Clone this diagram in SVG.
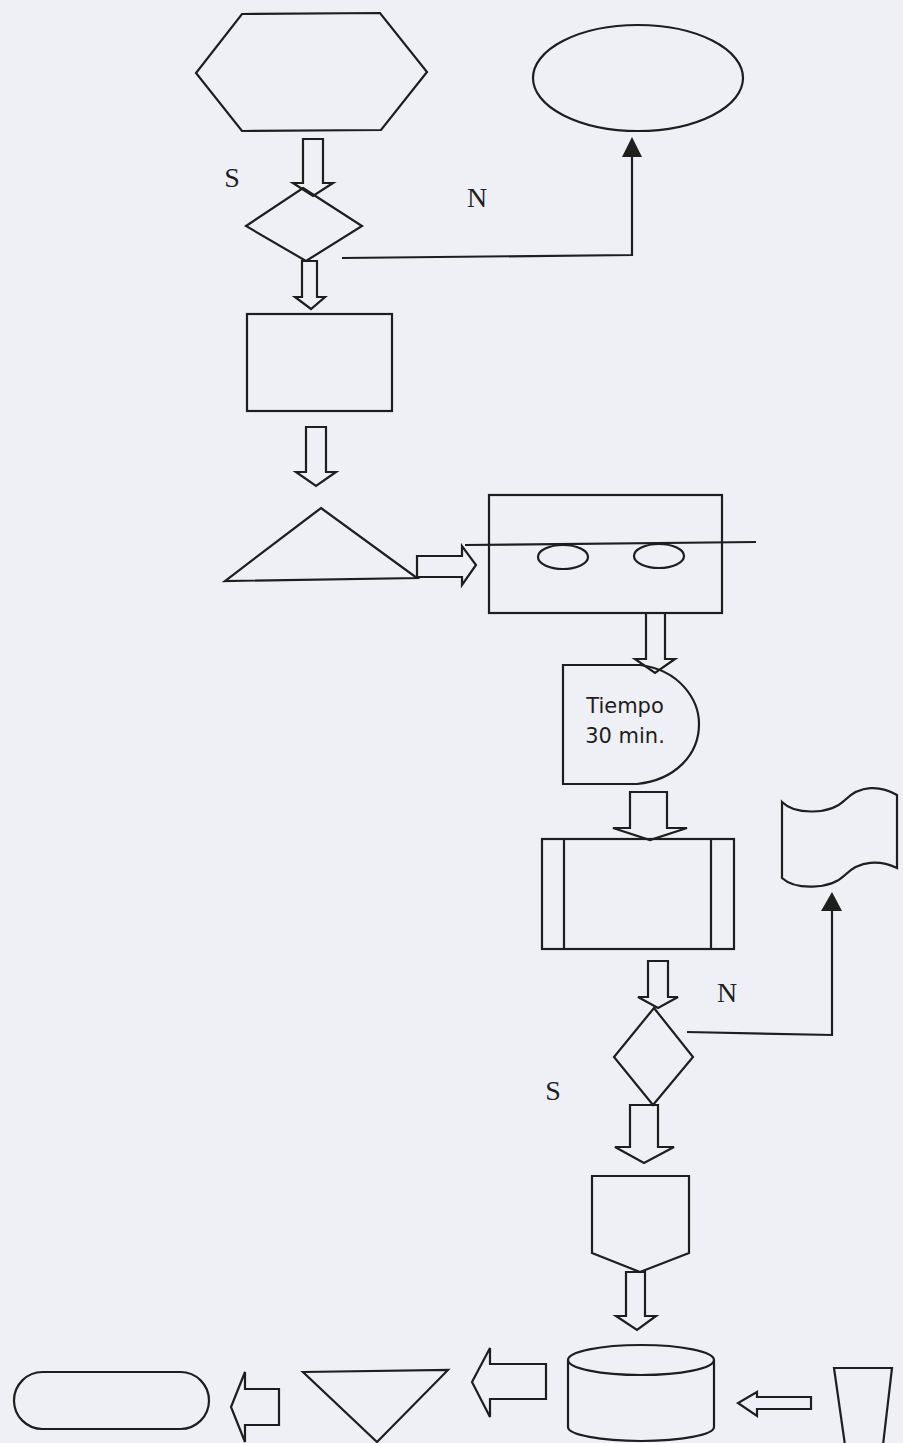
<svg xmlns="http://www.w3.org/2000/svg" width="903" height="1443" viewBox="0 0 903 1443">
<style>
.s{fill:none;stroke:#1e1e1e;stroke-width:2.2;stroke-linejoin:miter}
.c{fill:none;stroke:#1e1e1e;stroke-width:2.2}
.ah{fill:#1e1e1e;stroke:none}
.lbl{font-family:"Liberation Serif",serif;font-size:28px;fill:#1e1e1e}
.txt{font-family:"DejaVu Sans","Liberation Sans",sans-serif;font-size:21px;fill:#1e1e1e}
</style>
<rect width="903" height="1443" fill="#eff0f5"/>
<g id="hexagon"><polygon class="s" points="242,14 380,13 427,72 381,130 242,131 196,73"/></g>
<g id="ellipse1"><ellipse class="s" cx="638" cy="78" rx="105" ry="53"/></g>
<g id="decision1"><polygon class="s" points="303,188 362,226 306,261 246,226"/></g>
<g id="process1"><rect class="s" x="247" y="314" width="145" height="97"/></g>
<g id="triangle1"><polygon class="s" points="321,508 417,578 225,581"/></g>
<g id="operation"><rect class="s" x="489" y="495" width="233" height="118"/><line class="s" x1="465" y1="545" x2="756" y2="542"/><ellipse class="s" cx="563" cy="557" rx="25" ry="12"/><ellipse class="s" cx="659" cy="556" rx="25" ry="12"/></g>
<g id="delay"><path class="s" d="M563,665 L640,665 C680,670 699,700 699,724 C699,755 675,780 637,784 L563,784 Z"/><text class="txt" x="625" y="713" text-anchor="middle">Tiempo</text><text class="txt" x="625" y="743" text-anchor="middle">30 min.</text></g>
<g id="predefined"><rect class="s" x="542" y="839" width="192" height="110"/><line class="s" x1="564" y1="839" x2="564" y2="949"/><line class="s" x1="711" y1="839" x2="711" y2="949"/></g>
<g id="tape"><path class="s" d="M782,802 L782,878 C795,890 830,890 845,875 C860,860 880,860 897,868 L897,795 C880,785 860,785 845,800 C830,815 795,815 782,802 Z"/></g>
<g id="decision2"><polygon class="s" points="654,1008 693,1057 653,1105 614,1057"/></g>
<g id="offpage"><polygon class="s" points="592,1176 689,1176 689,1253 640,1272 592,1253"/></g>
<g id="cylinder"><path class="s" d="M568,1360 L568,1427 A73,14 0 0 0 714,1427 L714,1360"/><ellipse class="s" cx="641" cy="1360" rx="73" ry="15"/></g>
<g id="trapezoid"><polygon class="s" points="834,1368 892,1368 883,1445 845,1445"/></g>
<g id="triangle2"><polygon class="s" points="303,1372 448,1370 377,1442"/></g>
<g id="terminator"><rect class="s" x="14" y="1372" width="195" height="57" rx="28.5" ry="28.5"/></g>
<g id="connectors">
<polygon class="s" points="303,139 323,139 323,183 333,183 313,196 293,183 303,183"/>
<polygon class="s" points="302,261 317,261 317,297 325,297 311,309 295,297 302,297"/>
<polygon class="s" points="306,427 326,427 326,472 336,472 316,486 296,472 306,472"/>
<polygon class="s" points="417,556 462,556 462,546 476,565 462,585 462,577 417,577"/>
<polygon class="s" points="646,613 665,613 665,659 675,659 655,673 635,659 646,659"/>
<polygon class="s" points="630,792 667,792 667,828 687,828 650,840 613,828 630,828"/>
<polygon class="s" points="648,961 668,961 668,997 678,997 658,1008 638,997 648,997"/>
<polygon class="s" points="630,1105 658,1105 658,1147 674,1147 644,1163 615,1147 630,1147"/>
<polygon class="s" points="626,1272 645,1272 645,1316 656,1316 637,1330 616,1316 626,1316"/>
<polygon class="s" points="811,1397 811,1409 757,1409 757,1416 738,1403 757,1392 757,1397"/>
<polygon class="s" points="546,1364 546,1399 490,1399 490,1417 472,1382 490,1348 490,1364"/>
<polygon class="s" points="279,1389 279,1425 245,1425 245,1442 231,1407 245,1372 245,1389"/>
<polyline class="c" points="342,258 632,255 632,156"/>
<polygon class="ah" points="632,137 642,157 622,157"/>
<polyline class="c" points="687,1032 832,1035 832,910"/>
<polygon class="ah" points="832,892 842,911 821,911"/>
<text class="lbl" x="232" y="187" text-anchor="middle">S</text>
<text class="lbl" x="477" y="207" text-anchor="middle">N</text>
<text class="lbl" x="727" y="1002" text-anchor="middle">N</text>
<text class="lbl" x="553" y="1100" text-anchor="middle">S</text>
</g>
</svg>
